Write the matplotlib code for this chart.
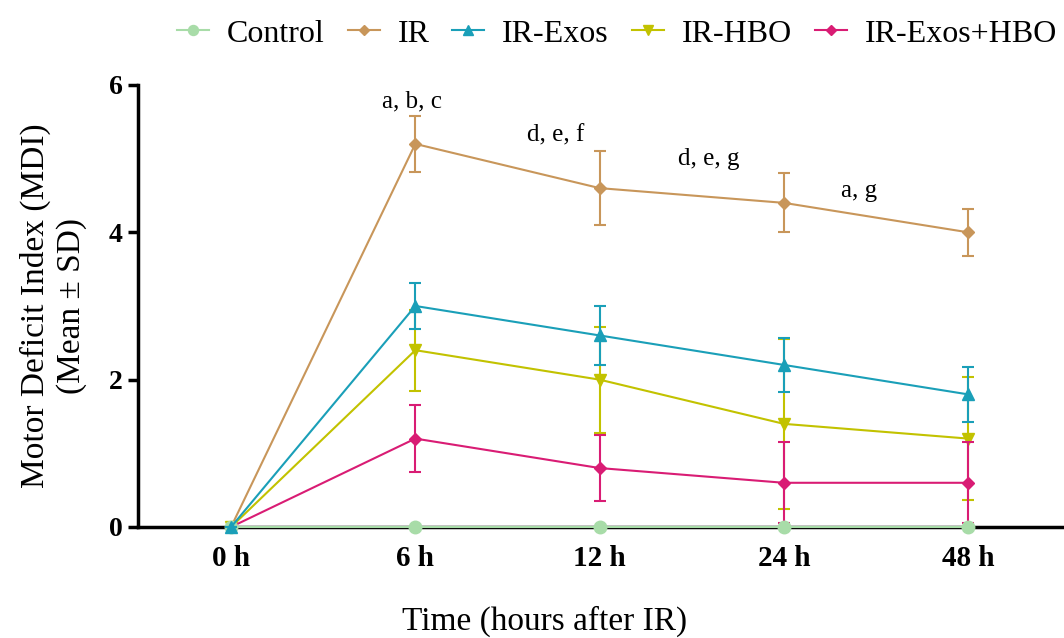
import matplotlib.pyplot as plt
import numpy as np
from matplotlib.lines import Line2D

plt.rcParams["font.family"] = ["Liberation Serif", "DejaVu Serif"]

time_labels = ["0 h", "6 h", "12 h", "24 h", "48 h"]

groups = ["Control", "IR", "IR-Exos", "IR-HBO", "IR-Exos+HBO"]
means = {
    "Control": [0, 0, 0, 0, 0],
    "IR": [0, 5.2, 4.6, 4.4, 4.0],
    "IR-Exos": [0, 3.0, 2.6, 2.2, 1.8],
    "IR-HBO": [0, 2.4, 2.0, 1.4, 1.2],
    "IR-Exos+HBO": [0, 1.2, 0.8, 0.6, 0.6],
}
sds = {
    "Control": [0, 0, 0, 0, 0],
    "IR": [0, 0.38, 0.5, 0.4, 0.32],
    "IR-Exos": [0, 0.31, 0.4, 0.37, 0.37],
    "IR-HBO": [0, 0.55, 0.72, 1.15, 0.84],
    "IR-Exos+HBO": [0, 0.45, 0.45, 0.55, 0.55],
}
letters = ["a, b, c", "d, e, f", "d, e, g", "a, g"]
letter_x = [0.98, 1.76, 2.59, 3.41]
letter_y = [5.78, 5.32, 5.0, 4.56]

colors = {
    "Control": "#a8dca8",
    "IR": "#c8965a",
    "IR-Exos": "#1a9fb8",
    "IR-HBO": "#c2c200",
    "IR-Exos+HBO": "#d91c74",
}
markers = {
    "Control": "o",
    "IR": "D",
    "IR-Exos": "^",
    "IR-HBO": "v",
    "IR-Exos+HBO": "D",
}
msizes = {"Control": 9, "IR": 6, "IR-Exos": 9, "IR-HBO": 9, "IR-Exos+HBO": 6}

fig = plt.figure(figsize=(10.64, 6.38), dpi=100)
ax = fig.add_axes([0.1297, 0.174, 0.8703, 0.6928])

x = np.arange(len(time_labels))
draw_order = ["IR", "IR-HBO", "IR-Exos+HBO", "Control", "IR-Exos"]
for i, g in enumerate(draw_order):
    ax.errorbar(
        x, means[g], yerr=sds[g],
        color=colors[g], marker=markers[g], markersize=msizes[g],
        linewidth=1.5, elinewidth=1.5, capsize=4, capthick=1.5,
        zorder=3 + i, clip_on=False,
    )

for t, lx, ly in zip(letters, letter_x, letter_y):
    ax.text(lx, ly, t, ha="center", va="center", fontsize=18)

ax.set_xlim(-0.505, 4.52)
ax.set_ylim(0, 6)
ax.set_yticks([0, 2, 4, 6])
ax.set_xticks(x)
ax.set_xticklabels(time_labels)

for s in ["top", "right"]:
    ax.spines[s].set_visible(False)
ax.spines["left"].set_linewidth(2.5)
ax.spines["bottom"].set_linewidth(2.5)
ax.spines["bottom"].set_zorder(2)

ax.tick_params(axis="y", length=7, width=2.5, labelsize=20, pad=4)
ax.tick_params(axis="x", length=4, width=2.5, labelsize=21, pad=9)
for lbl in ax.get_xticklabels() + ax.get_yticklabels():
    lbl.set_fontweight("bold")

ax.set_ylabel("Motor Deficit Index (MDI)\n(Mean ± SD)", fontsize=24, labelpad=16)
ax.set_xlabel("Time (hours after IR)", fontsize=24)
ax.xaxis.set_label_coords(0.439, -0.178)

legend_handles = [
    Line2D([], [], color=colors[g], marker=markers[g], markersize=msizes[g] * 0.8,
           linewidth=1.5)
    for g in groups
]
fig.legend(
    legend_handles, groups,
    loc="upper center", bbox_to_anchor=(0.580, 1.015), ncol=5,
    frameon=False, fontsize=23, handlelength=1.0, handletextpad=0.56,
    columnspacing=0.72,
)

fig.savefig("out.png", dpi=100)
